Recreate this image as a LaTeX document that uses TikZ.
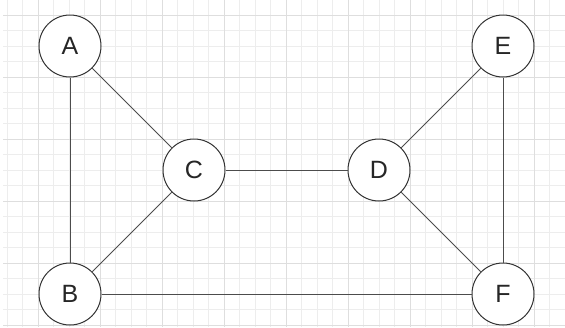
\documentclass[tikz,border=0pt]{standalone}
\usepackage{fontspec}
\setmainfont{Liberation Sans}
\begin{document}
\begin{tikzpicture}[x=1pt,y=-1pt,
  vtx/.style={circle,draw=black!80,line width=1pt,fill=white,minimum size=62pt,inner sep=0pt,font=\fontsize{25}{25}\selectfont,text=black!85},
  edge/.style={draw=black!70,line width=0.9pt},
  minorgrid/.style={draw=black!7,line width=0.8pt},
  majorgrid/.style={draw=black!13,line width=1pt}]
\fill[white] (0,0) rectangle (565,327);
\useasboundingbox (0,0) rectangle (565,327);
% minor grid
\foreach \i in {0,...,36} {
  \pgfmathsetmacro{\gx}{7+15.5*\i}
  \draw[minorgrid] (\gx,0) -- (\gx,327);
}
\foreach \j in {0,...,21} {
  \pgfmathsetmacro{\gy}{-0.5+15.5*\j}
  \draw[minorgrid] (3,\gy) -- (565,\gy);
}
% major grid
\foreach \i in {0,...,8} {
  \pgfmathsetmacro{\gx}{38+62*\i}
  \draw[majorgrid] (\gx,0) -- (\gx,327);
}
\foreach \j in {0,...,5} {
  \pgfmathsetmacro{\gy}{15+62*\j}
  \draw[majorgrid] (3,\gy) -- (565,\gy);
}
\node[vtx] (A) at (70,46) {A};
\node[vtx] (B) at (70,294) {B};
\node[vtx] (C) at (194,170) {C};
\node[vtx] (D) at (379,170) {D};
\node[vtx] (E) at (503,46) {E};
\node[vtx] (F) at (503,294) {F};
\draw[edge] (A) -- (B);
\draw[edge] (A) -- (C);
\draw[edge] (C) -- (B);
\draw[edge] (C) -- (D);
\draw[edge] (D) -- (E);
\draw[edge] (D) -- (F);
\draw[edge] (E) -- (F);
\draw[edge] (B) -- (F);
\end{tikzpicture}
\end{document}
